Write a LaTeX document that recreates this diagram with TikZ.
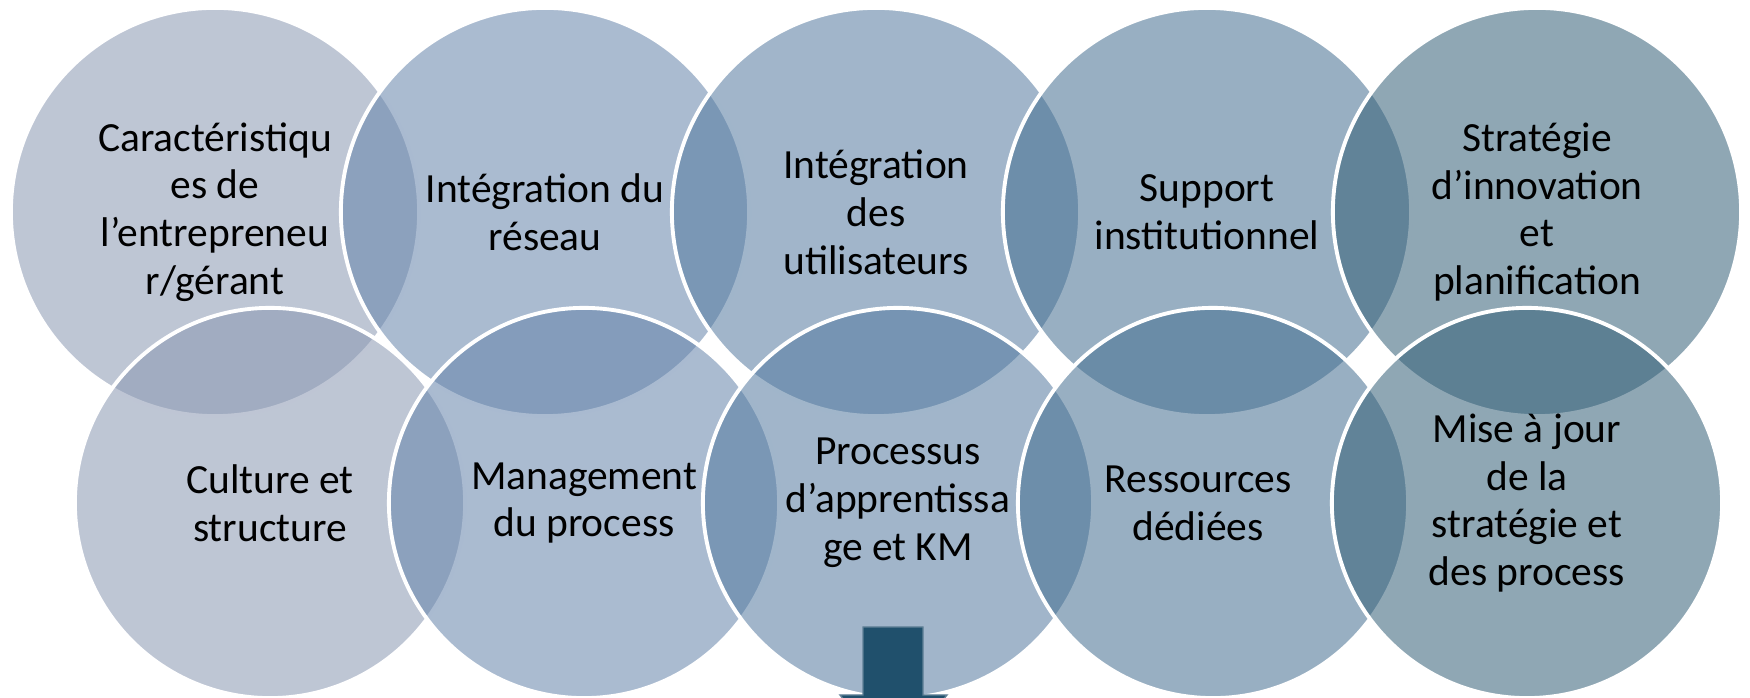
\documentclass[tikz,border=0pt]{standalone}
\usepackage{fontspec}
\setmainfont{Carlito}
\usepackage{xcolor}

\definecolor{vennA}{RGB}{137,151,177}
\definecolor{vennB}{RGB}{100,131,170}
\definecolor{vennC}{RGB}{83,121,159}
\definecolor{vennD}{RGB}{68,110,144}
\definecolor{vennE}{RGB}{51,95,119}
\definecolor{arrowblue}{RGB}{32,80,108}
\definecolor{arrowedge}{RGB}{96,128,150}

\begin{document}
\begin{tikzpicture}[x=0.01cm,y=-0.01cm,
    bubble/.style={circle,draw=white,line width=1.1pt,fill opacity=0.55,draw opacity=1,inner sep=0pt,outer sep=0pt},
    topbubble/.style={bubble,minimum size=4.08cm},
    botbubble/.style={bubble,minimum size=3.9cm},
    word/.style={align=center,inner sep=0pt,font=\fontsize{11.8pt}{13.6pt}\selectfont}]
    \useasboundingbox (0,0) rectangle (1750,698);
    \clip (0,0) rectangle (1750,698);

    \node[topbubble,fill=vennA] (t1) at (215,212) {};
    \node[topbubble,fill=vennB] (t2) at (545,212) {};
    \node[topbubble,fill=vennC] (t3) at (876,212) {};
    \node[topbubble,fill=vennD] (t4) at (1207,212) {};
    \node[topbubble,fill=vennE] (t5) at (1537,212) {};

    \node[botbubble,fill=vennA] (b1) at (270,503) {};
    \node[botbubble,fill=vennB] (b2) at (584,503) {};
    \node[botbubble,fill=vennC] (b3) at (898,503) {};
    \node[botbubble,fill=vennD] (b4) at (1213,503) {};
    \node[botbubble,fill=vennE] (b5) at (1527,503) {};

    \node[word] (t1txt) at (t1) {Caractéristiqu\\es de\\l’entrepreneu\\r/gérant};
    \node[word] (t2txt) at (t2) {Intégration du\\réseau};
    \node[word] (t3txt) at (t3) {Intégration\\des\\utilisateurs};
    \node[word] (t4txt) at (t4) {Support\\institutionnel};
    \node[word] (t5txt) at (t5) {Stratégie\\d’innovation\\et\\planification};

    \node[word] (b1txt) at (b1) {Culture et\\structure};
    \node[word] (b2txt) at (b2) {Management\\du process};
    \node[word] (b3txt) at (b3) {Processus\\d’apprentissa\\ge et KM};
    \node[word] (b4txt) at ([xshift=-0.15cm]b4.center) {Ressources\\dédiées};
    \node[word] (b5txt) at (b5) {Mise à jour\\de la\\stratégie et\\des process};

    \draw[fill=arrowblue,draw=arrowedge,line width=0.4pt]
        (863,627) -- (923,627) -- (923,695) -- (947,695) -- (893,760)
        -- (840,695) -- (863,695) -- cycle;
\end{tikzpicture}
\end{document}
